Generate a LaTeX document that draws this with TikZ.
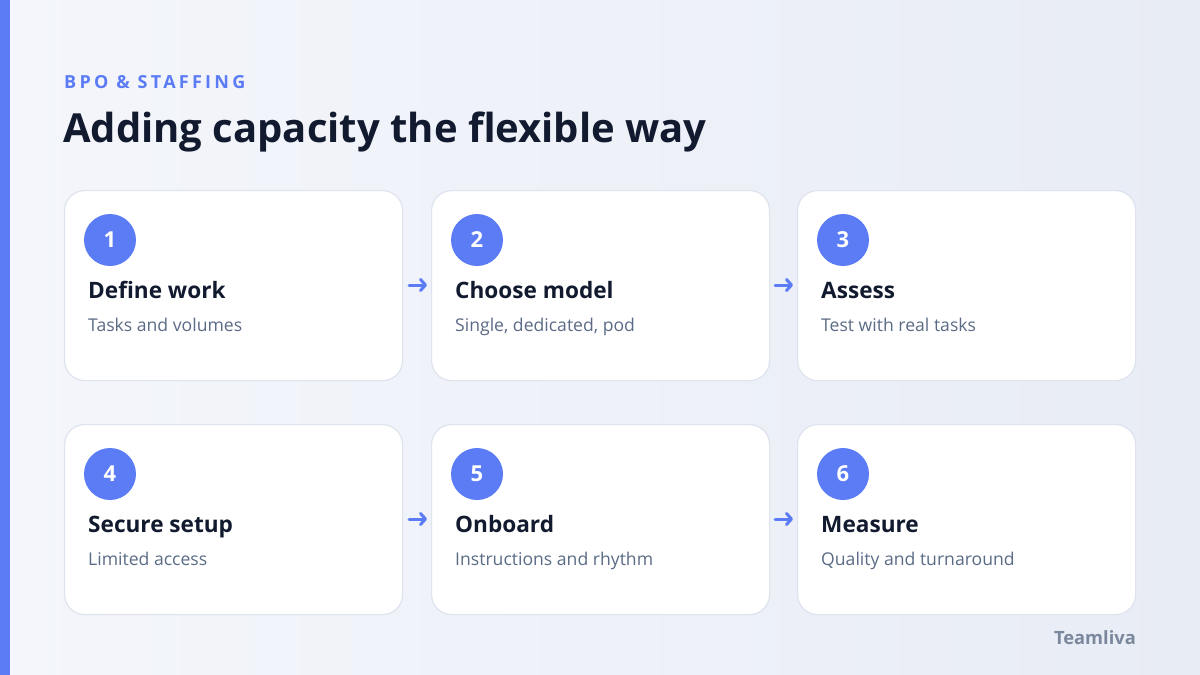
\documentclass[tikz,border=0pt]{standalone}
\usepackage{fontspec}
\setmainfont{Open Sans}
\usetikzlibrary{arrows.meta}
\definecolor{accent}{HTML}{5B7CF5}
\definecolor{bgA}{HTML}{F4F6FB}
\definecolor{bgB}{HTML}{E8ECF5}
\definecolor{ink}{HTML}{111A2E}
\definecolor{subtext}{HTML}{5B6B86}
\definecolor{cardline}{HTML}{DEE3EE}
\definecolor{foot}{HTML}{7A879D}
\tikzset{
  card/.style={draw=cardline, line width=1.2pt, fill=white, rounded corners=20pt, minimum width=338pt, minimum height=190pt, anchor=north west, inner sep=0pt},
  badge/.style={circle, fill=accent, minimum size=52pt, inner sep=0pt, text=white, font=\fontsize{22}{24}\selectfont\bfseries},
  ctitle/.style={anchor=base west, inner sep=0pt, text=ink, font=\fontsize{22.6}{26}\selectfont\bfseries},
  csub/.style={anchor=base west, inner sep=0pt, text=subtext, font=\fontsize{17.6}{20}\selectfont},
  flow/.style={draw=accent, line width=3pt, -{Straight Barb[length=5pt,width=11pt,line cap=round,line join=round]}, line cap=round}
}
\begin{document}
\begin{tikzpicture}[x=1pt,y=-1pt]
\useasboundingbox (0,0) rectangle (1200,675);
\shade[shading angle=120, left color=bgA, right color=bgB] (0,0) rectangle (1200,675);
\fill[accent] (0,0) rectangle (10,675);
\node[anchor=base west, inner sep=0pt, text=accent, font=\fontsize{18}{20}\selectfont\bfseries\addfontfeatures{LetterSpace=18}] (eyebrow) at (64,88) {BPO \& STAFFING};
\node[anchor=base west, inner sep=0pt, text=ink, font=\fontsize{40}{46}\selectfont\bfseries] (title) at (63,142) {Adding capacity the flexible way};
% cards
\foreach \n/\x/\y/\t/\s in {1/64/190/Define work/Tasks and volumes,
                           2/431/190/Choose model/{Single, dedicated, pod},
                           3/797/190/Assess/Test with real tasks,
                           4/64/424/Secure setup/Limited access,
                           5/431/424/Onboard/Instructions and rhythm,
                           6/797/424/Measure/Quality and turnaround}{
  \node[card] (c\n) at (\x,\y) {};
  \node[badge] (b\n) at (\x+46,\y+50) {\n};
  \node[ctitle] (t\n) at (\x+24,\y+108) {\t};
  \node[csub] (s\n) at (\x+24,\y+141) {\s};
}
\coordinate (a1s) at (409,285); \coordinate (a1e) at (427,285);
\coordinate (a2s) at (775,285); \coordinate (a2e) at (793,285);
\coordinate (a3s) at (409,519); \coordinate (a3e) at (427,519);
\coordinate (a4s) at (775,519); \coordinate (a4e) at (793,519);
\draw[flow] (a1s) -- (a1e);
\draw[flow] (a2s) -- (a2e);
\draw[flow] (a3s) -- (a3e);
\draw[flow] (a4s) -- (a4e);
\node[anchor=base east, inner sep=0pt, text=foot, font=\fontsize{18.3}{20}\selectfont\bfseries] (brand) at (1136,644) {Teamliva};
\end{tikzpicture}
\end{document}
